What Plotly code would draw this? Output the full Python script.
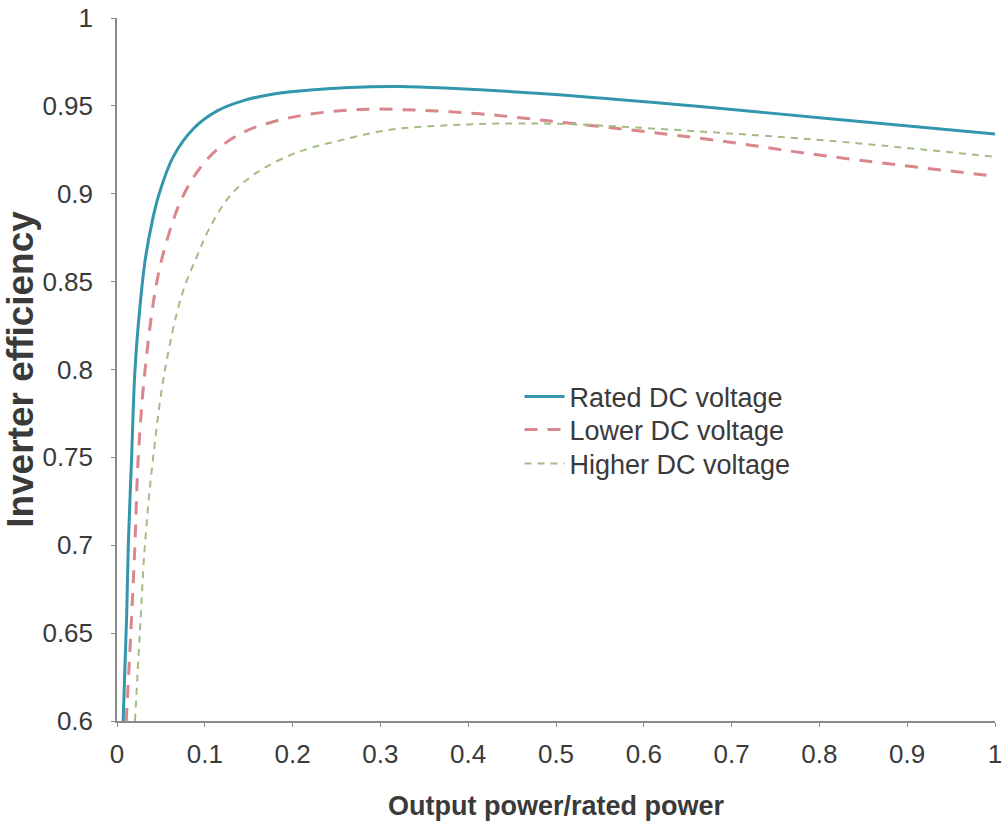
import plotly.graph_objects as go

# Rated DC voltage
rated_x = [0.007, 0.011, 0.013, 0.0167, 0.0205, 0.026, 0.032, 0.04, 0.048, 0.064, 0.087, 0.1135,
           0.144, 0.182, 0.22, 0.265, 0.322, 0.379, 0.482, 0.664, 0.815, 1.0]
rated_y = [0.6, 0.66, 0.702, 0.751, 0.8, 0.835, 0.862, 0.884, 0.900, 0.921, 0.937, 0.947,
           0.953, 0.957, 0.959, 0.9605, 0.961, 0.960, 0.957, 0.9496, 0.9425, 0.934]

# Lower DC voltage
lower_x = [0.0105, 0.0167, 0.0205, 0.0243, 0.032, 0.045, 0.0566, 0.0718, 0.0907, 0.1135,
           0.144, 0.178, 0.216, 0.277, 0.345, 0.413, 0.482, 0.664, 0.815, 1.0]
lower_y = [0.6, 0.66, 0.7015, 0.751, 0.8, 0.849, 0.873, 0.895, 0.912, 0.925,
           0.935, 0.941, 0.945, 0.948, 0.9475, 0.9455, 0.942, 0.9316, 0.921, 0.910]

# Higher DC voltage
higher_x = [0.0205, 0.026, 0.032, 0.0414, 0.0547, 0.0736, 0.0907, 0.106, 0.129, 0.159,
            0.193, 0.22, 0.243, 0.311, 0.379, 0.448, 0.52, 0.664, 0.815, 1.0]
higher_y = [0.6, 0.650, 0.7015, 0.751, 0.8, 0.842, 0.864, 0.881, 0.899, 0.912,
            0.921, 0.926, 0.929, 0.9364, 0.939, 0.940, 0.9395, 0.9354, 0.930, 0.921]

x_ticks = [0, 0.1, 0.2, 0.3, 0.4, 0.5, 0.6, 0.7, 0.8, 0.9, 1]
x_labels = ["0", "0.1", "0.2", "0.3", "0.4", "0.5", "0.6", "0.7", "0.8", "0.9", "1"]
y_ticks = [0.6, 0.65, 0.7, 0.75, 0.8, 0.85, 0.9, 0.95, 1]
y_labels = ["0.6", "0.65", "0.7", "0.75", "0.8", "0.85", "0.9", "0.95", "1"]

FONT = "Liberation Sans, Arial, sans-serif"
TXT = "#3a3a3a"

fig = go.Figure()
fig.add_trace(go.Scatter(x=rated_x, y=rated_y, mode="lines", name="Rated DC voltage", legend="legend",
                         line=dict(color="#3296ad", width=3, shape="spline", smoothing=1)))
fig.add_trace(go.Scatter(x=lower_x, y=lower_y, mode="lines", name="Lower DC voltage", legend="legend2",
                         line=dict(color="#d9878d", width=3, dash="13px,10px", shape="spline", smoothing=1)))
fig.add_trace(go.Scatter(x=higher_x, y=higher_y, mode="lines", name="Higher DC voltage", legend="legend3",
                         line=dict(color="#a3bd84", width=2, dash="7px,6px", shape="spline", smoothing=1)))

axis_common = dict(showline=True, linecolor="#8a8a8a", linewidth=1.5, ticks="outside",
                   tickcolor="#8a8a8a", ticklen=4, tickwidth=1, showgrid=False, zeroline=False,
                   automargin=False,
                   tickfont=dict(family=FONT, size=26, color=TXT))

legend_common = dict(x=0.4584, xanchor="left", yanchor="middle", bgcolor="rgba(0,0,0,0)",
                     font=dict(family=FONT, size=27, color=TXT), itemwidth=40)

fig.update_layout(
    width=1006, height=821,
    paper_bgcolor="white", plot_bgcolor="white",
    margin=dict(l=117, r=11, t=18, b=100),
    showlegend=True,
    legend=dict(y=0.4609, **legend_common),
    legend2=dict(y=0.4139, **legend_common),
    legend3=dict(y=0.3656, **legend_common),
    xaxis=dict(range=[0, 1], tickvals=x_ticks, ticktext=x_labels,
               title=dict(text="<b>Output power/rated power</b>", standoff=28,
                          font=dict(family=FONT, size=27, color=TXT)),
               ticklabelstandoff=5, **axis_common),
    yaxis=dict(range=[0.6, 1], tickvals=y_ticks, ticktext=y_labels,
               title=dict(text="<b>Inverter efficiency</b>", standoff=9,
                          font=dict(family=FONT, size=37, color=TXT)),
               ticklabelstandoff=13, **axis_common),
)

fig.write_html("out.html", config={"displayModeBar": False},
               post_script="document.body.style.margin='0';")
